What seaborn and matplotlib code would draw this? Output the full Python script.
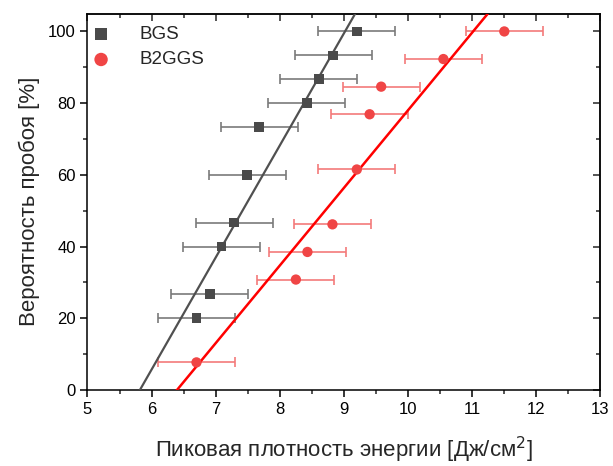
import numpy as np
import pandas as pd
import matplotlib
matplotlib.use("Agg")
import matplotlib.pyplot as plt
from matplotlib.ticker import MultipleLocator
import seaborn as sns

# Peak energy density [J/cm^2] vs. breakdown probability [%]
bgs_energy = [9.20, 8.83, 8.61, 8.42, 7.68, 7.49, 7.29, 7.09, 6.91, 6.70]
bgs_prob = [100.0, 93.3, 86.7, 80.0, 73.3, 60.0, 46.7, 40.0, 26.7, 20.0]
bgs_err = [0.6] * len(bgs_energy)

b2ggs_energy = [11.50, 10.55, 9.58, 9.40, 9.20, 8.82, 8.43, 8.25, 6.70]
b2ggs_prob = [100.0, 92.3, 84.6, 76.9, 61.5, 46.2, 38.5, 30.8, 7.7]
b2ggs_err = [0.6] * len(b2ggs_energy)

x_ticks = [5, 6, 7, 8, 9, 10, 11, 12, 13]
y_ticks = [0, 20, 40, 60, 80, 100]

bgs = pd.DataFrame({"energy": bgs_energy, "prob": bgs_prob, "err": bgs_err})
b2ggs = pd.DataFrame({"energy": b2ggs_energy, "prob": b2ggs_prob, "err": b2ggs_err})

sns.set_theme(style="ticks")
plt.rcParams["font.family"] = ["Liberation Sans", "DejaVu Sans"]
plt.rcParams["axes.linewidth"] = 1.1

fig = plt.figure(figsize=(6.13, 4.66), dpi=100)
ax = fig.add_axes([0.1427, 0.1631, 0.8369, 0.8079])
ax.set_xlim(5, 13)
ax.set_ylim(0, 105)

gray = "#4a4a4a"
red = "#f04545"

# horizontal error bars
ax.errorbar(bgs["energy"], bgs["prob"], xerr=bgs["err"], fmt="none",
            ecolor="#7a7a7a", elinewidth=1.2, capsize=3.5, capthick=1.2, zorder=2)
ax.errorbar(b2ggs["energy"], b2ggs["prob"], xerr=b2ggs["err"], fmt="none",
            ecolor="#f47a7a", elinewidth=1.2, capsize=3.5, capthick=1.2, zorder=2)

# linear fits across the full energy range
sns.regplot(data=bgs, x="energy", y="prob", ax=ax, ci=None, truncate=False,
            scatter=False, line_kws={"color": "#505050", "lw": 1.6, "zorder": 3})
sns.regplot(data=b2ggs, x="energy", y="prob", ax=ax, ci=None, truncate=False,
            scatter=False, line_kws={"color": "#ff0000", "lw": 1.8, "zorder": 3})

# data markers
sns.scatterplot(data=bgs, x="energy", y="prob", ax=ax, marker="s", s=50,
                color=gray, edgecolor="none", label="BGS", zorder=4)
sns.scatterplot(data=b2ggs, x="energy", y="prob", ax=ax, marker="o", s=55,
                color=red, edgecolor="none", label="B2GGS", zorder=4)

ax.set_xlim(5, 13)
ax.set_ylim(0, 105)
ax.set_xticks(x_ticks)
ax.set_yticks(y_ticks)
ax.xaxis.set_minor_locator(MultipleLocator(0.5))
ax.yaxis.set_minor_locator(MultipleLocator(10))
ax.tick_params(which="major", direction="out", length=5, width=1.1,
               labelsize=12, colors="black")
ax.tick_params(which="minor", direction="out", length=3, width=1.1)

# mirrored inward ticks on top and right
top = ax.secondary_xaxis("top")
top.set_xticks(x_ticks)
top.xaxis.set_minor_locator(MultipleLocator(0.5))
top.tick_params(which="major", direction="in", length=5, width=1.1, labeltop=False)
top.tick_params(which="minor", direction="in", length=3, width=1.1)
right = ax.secondary_yaxis("right")
right.set_yticks(y_ticks)
right.yaxis.set_minor_locator(MultipleLocator(10))
right.tick_params(which="major", direction="in", length=5, width=1.1, labelright=False)
right.tick_params(which="minor", direction="in", length=3, width=1.1)

for s in ax.spines.values():
    s.set_color("black")

ax.set_xlabel("Пиковая плотность энергии [Дж/см$^2$]", fontsize=16, labelpad=13)
ax.set_ylabel("Вероятность пробоя [%]", fontsize=16, labelpad=6)

leg = ax.legend(loc="upper left", bbox_to_anchor=(0.0, 0.99), frameon=False,
                fontsize=13.5, handlelength=0.55, handletextpad=1.75,
                borderaxespad=0.05, labelspacing=0.45, markerscale=1.3)

fig.savefig("out.png", dpi=100)
